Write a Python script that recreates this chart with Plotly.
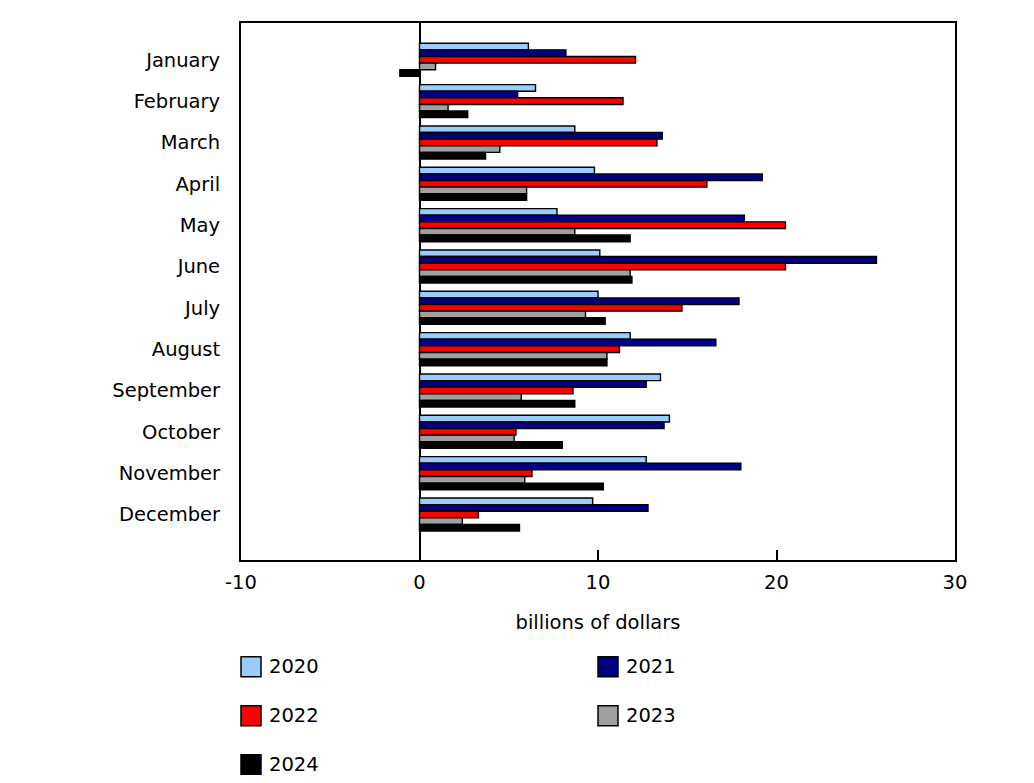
import plotly.graph_objects as go

months = ['January', 'February', 'March', 'April', 'May', 'June', 'July',
          'August', 'September', 'October', 'November', 'December']
years = ['2020', '2021', '2022', '2023', '2024']

v2020 = [6.1, 6.5, 8.7, 9.8, 7.7, 10.1, 10.0, 11.8, 13.5, 14.0, 12.7, 9.7]
v2021 = [8.2, 5.5, 13.6, 19.2, 18.2, 25.6, 17.9, 16.6, 12.7, 13.7, 18.0, 12.8]
v2022 = [12.1, 11.4, 13.3, 16.1, 20.5, 20.5, 14.7, 11.2, 8.6, 5.4, 6.3, 3.3]
v2023 = [0.9, 1.6, 4.5, 6.0, 8.7, 11.8, 9.3, 10.5, 5.7, 5.3, 5.9, 2.4]
v2024 = [-1.1, 2.7, 3.7, 6.0, 11.8, 11.9, 10.4, 10.5, 8.7, 8.0, 10.3, 5.6]

x_ticks = [-10, 0, 10, 20, 30]
x_labels = ['-10', '0', '10', '20', '30']

series = [v2020, v2021, v2022, v2023, v2024]
colors = ['#99CCFF', '#000080', '#FF0000', '#A0A0A0', '#000000']

FONT = 'DejaVu Sans'
FS = 19.5

fig = go.Figure()
for name, vals, col in zip(years, series, colors):
    fig.add_trace(go.Bar(
        y=months,
        x=vals,
        name=name,
        orientation='h',
        marker=dict(color=col, line=dict(color='#000000', width=1.4)),
        showlegend=False,
    ))

# legend drawn by hand: two columns, big squares
for i, (name, col) in enumerate(zip(years, colors)):
    cx = 0.0 if i % 2 == 0 else 0.5
    cy = -0.199 - (i // 2) * 0.0912
    fig.add_shape(
        type='rect', xref='paper', yref='paper',
        xsizemode='pixel', ysizemode='pixel',
        xanchor=cx, yanchor=cy,
        x0=0, x1=20, y0=-10, y1=10,
        fillcolor=col, line=dict(color='#000000', width=1.5),
    )
    fig.add_annotation(
        x=cx + 0.037, y=cy, xref='paper', yref='paper',
        text=name, showarrow=False, xanchor='left', yanchor='middle',
        font=dict(family=FONT, size=FS, color='#000000'),
    )

fig.update_layout(
    barmode='group',
    bargap=0.2,
    bargroupgap=0,
    width=1018,
    height=767,
    margin=dict(l=233, r=71, t=15, b=215),
    paper_bgcolor='white',
    plot_bgcolor='white',
    font=dict(family=FONT, size=FS, color='#000000'),
    xaxis=dict(
        range=[-10, 30],
        tickvals=x_ticks,
        ticktext=x_labels,
        ticks='inside',
        ticklen=10,
        tickwidth=1.5,
        tickcolor='#000000',
        showgrid=False,
        zeroline=True,
        zerolinecolor='#000000',
        zerolinewidth=1.5,
        showline=True,
        linecolor='#000000',
        linewidth=2,
        mirror=True,
        ticklabelstandoff=4,
        title=dict(text='billions of dollars', standoff=22,
                   font=dict(family=FONT, size=FS)),
    ),
    yaxis=dict(
        type='category',
        range=[12.1, -0.89],
        showgrid=False,
        ticks='',
        showline=True,
        linecolor='#000000',
        linewidth=2,
        mirror=True,
        ticklabelstandoff=15,
    ),
)

fig.write_html('out.html')
